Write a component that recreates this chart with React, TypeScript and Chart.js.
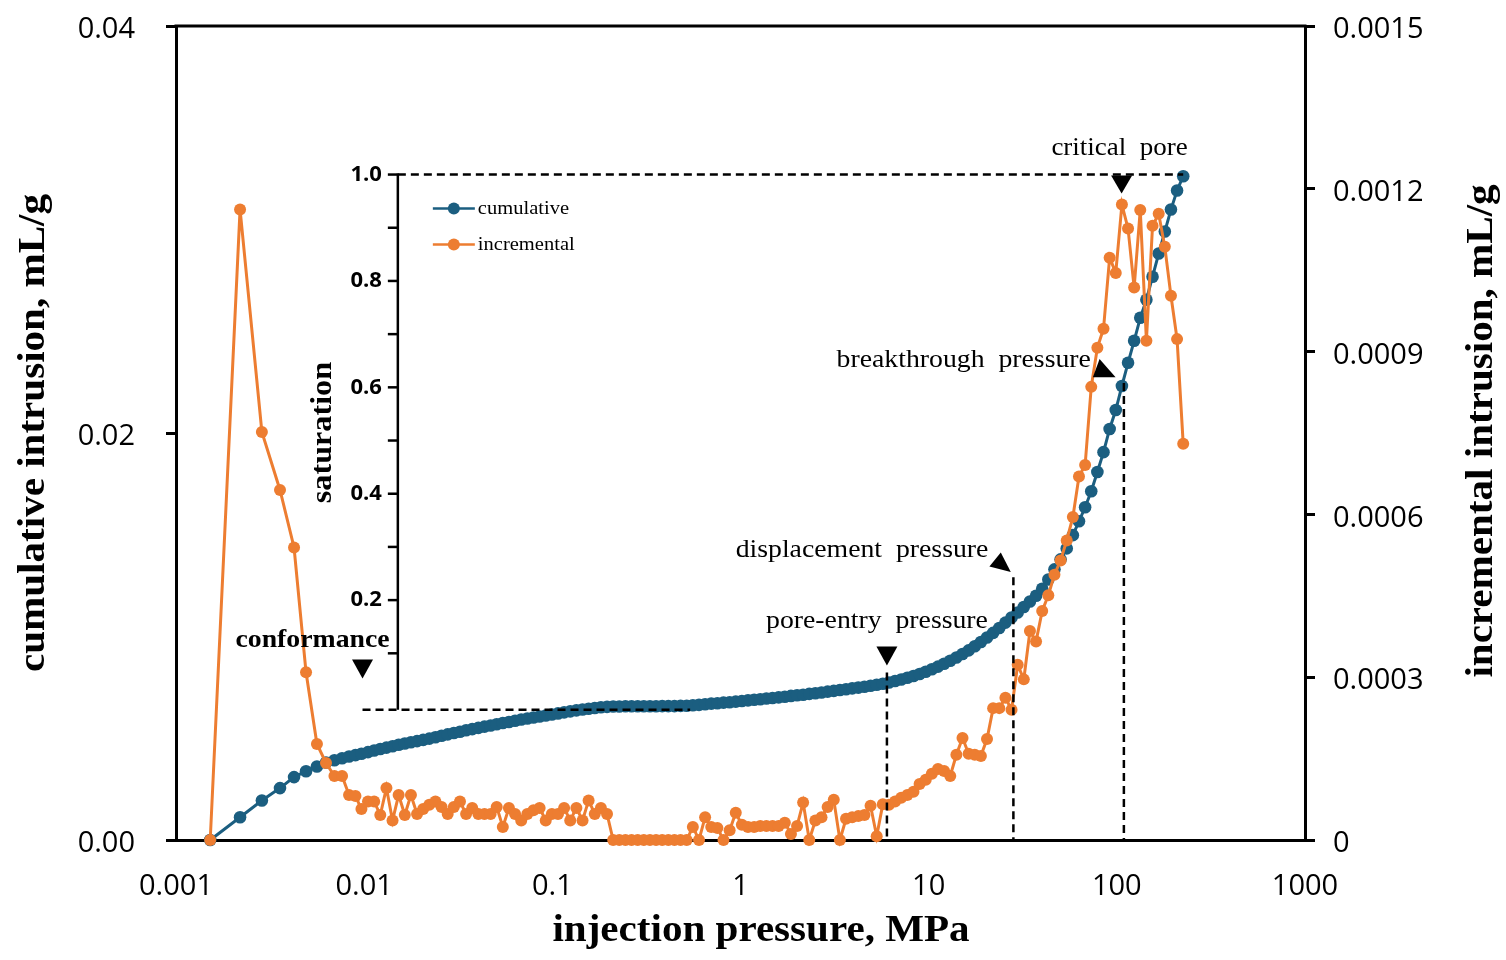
import React, { useEffect, useRef } from "react";
import { Chart, registerables, type ChartConfiguration, type Plugin } from "chart.js";

Chart.register(...registerables);

const BLUE = "#1b5e80";
const ORANGE = "#ED7D31";
const SERIF = "'Liberation Serif', 'Times New Roman', serif";
const SANS = "'Open Sans', 'Noto Sans', sans-serif";

// injection pressure, MPa (shared by both series)
const pressureMPa = [
  0.00152, 0.00219, 0.00286, 0.00357, 0.00424, 0.00491, 0.00561, 0.00627, 0.00695, 0.00763,
  0.00831, 0.00899, 0.00967,
  0.01048, 0.0113, 0.01218, 0.01313, 0.01415, 0.01525, 0.01644, 0.01772, 0.0191, 0.02059,
  0.02219, 0.02392, 0.02578, 0.02779, 0.02996, 0.03229, 0.03481, 0.03752, 0.04044, 0.04359,
  0.04699, 0.05062, 0.05456, 0.05881, 0.06339, 0.06833, 0.07365, 0.07939, 0.08558, 0.09225,
  0.09941, 0.1072, 0.1155, 0.1245, 0.1342, 0.1447, 0.1559, 0.1681, 0.1812, 0.1953,
  0.2105, 0.2269, 0.2446, 0.2636, 0.2842, 0.3063, 0.3302, 0.3559, 0.3836, 0.4135,
  0.4457, 0.4804, 0.5178, 0.5582, 0.6017, 0.6485, 0.6991, 0.7535, 0.8122, 0.8755,
  0.9437, 1.017, 1.096, 1.182, 1.274, 1.373, 1.48, 1.595, 1.72, 1.854,
  1.998, 2.152, 2.32, 2.5, 2.695, 2.905, 3.131, 3.375, 3.638, 3.922,
  4.227, 4.556, 4.911, 5.294, 5.706, 6.151, 6.63, 7.147, 7.703, 8.304,
  8.95, 9.648, 10.4, 11.21, 12.08, 13.02, 14.04, 15.13, 16.31, 17.58,
  18.95, 20.42, 22.01, 23.73, 25.58, 27.57, 29.72, 32.03, 34.53, 37.22,
  40.12, 43.24, 46.61, 50.24, 54.16, 58.38, 62.93, 67.83, 73.12, 78.81,
  84.95, 91.57, 98.7, 106.4, 114.7, 123.6, 133.2, 143.6, 154.8, 166.9,
  179.9, 193.9, 209.0, 225.3,
];

// cumulative intrusion, mL/g (left axis)
const cumulative = [
  0, 0.00112, 0.00194, 0.00255, 0.00309, 0.00338, 0.00361, 0.00381, 0.00392, 0.00402,
  0.0041, 0.00417, 0.00424,
  0.00432, 0.0044, 0.00447, 0.00454, 0.00461, 0.00468, 0.00474, 0.0048, 0.00486, 0.00492,
  0.00498, 0.00505, 0.00512, 0.00519, 0.00526, 0.00532, 0.00539, 0.00545, 0.00551, 0.00557,
  0.00563, 0.00569, 0.00575, 0.0058, 0.00586, 0.00592, 0.00597, 0.00602, 0.00607, 0.00612,
  0.00617, 0.00622, 0.00627, 0.00632, 0.00637, 0.00641, 0.00645, 0.00649, 0.00652, 0.00654,
  0.00656, 0.00656, 0.00657, 0.00657, 0.00657, 0.00657, 0.00657, 0.00657, 0.00658, 0.00658,
  0.00658, 0.00659, 0.0066, 0.00662, 0.00664, 0.00667, 0.0067, 0.00672, 0.00675, 0.00677,
  0.0068, 0.00683, 0.00686, 0.00689, 0.00692, 0.00695, 0.00698, 0.00701, 0.00704, 0.00708,
  0.00711, 0.00714, 0.00718, 0.00721, 0.00725, 0.00729, 0.00733, 0.00737, 0.00741, 0.00745,
  0.00749, 0.00753, 0.00758, 0.00763, 0.00768, 0.00774, 0.00781, 0.00789, 0.00797, 0.00806,
  0.00816, 0.00827, 0.00839, 0.00852, 0.00866, 0.00881, 0.00897, 0.00914, 0.00932, 0.00952,
  0.00973, 0.00995, 0.01018, 0.01042, 0.01068, 0.01093, 0.01118, 0.01145, 0.01172, 0.012,
  0.01235, 0.0128, 0.0133, 0.01379, 0.01433, 0.01498, 0.01566, 0.01635, 0.01714, 0.01808,
  0.01906, 0.0202, 0.02113, 0.02231, 0.02345, 0.02453, 0.02566, 0.02655, 0.02768, 0.02882,
  0.0299, 0.03098, 0.03192, 0.03262,
];

// incremental intrusion, mL/g (right axis)
const incremental = [
  0, 0.001162, 0.000752, 0.000645, 0.000539, 0.000309, 0.000177, 0.000142, 0.000118, 0.000118,
  0.000083, 0.000081, 0.000057,
  0.000071, 0.000071, 0.000046, 0.000096, 0.000036, 0.000083, 0.000046, 0.000083, 0.000048, 0.000057,
  0.000065, 0.000071, 0.000061, 0.000048, 0.000061, 0.000071, 0.000048, 0.000059, 0.000048, 0.000048,
  0.000048, 0.000061, 0.000024, 0.000059, 0.000048, 0.000036, 0.000048, 0.000055, 0.000059, 0.000036,
  0.000048, 0.000048, 0.000059, 0.000036, 0.000059, 0.000036, 0.000073, 0.000048, 0.000059, 0.000048,
  0, 0, 0, 0, 0, 0, 0, 0, 0, 0,
  0, 0, 0, 0.000024, 0, 0.000042, 0.000024, 0.000022, 0, 0.000018,
  0.00005, 0.000028, 0.000024, 0.000024, 0.000026, 0.000026, 0.000026, 0.000026, 0.000032, 0.000011,
  0.000026, 0.000069, 0, 0.000036, 0.000042, 0.000061, 0.000074, 0, 0.000039, 0.000042,
  0.000044, 0.000046, 0.000063, 0.000007, 0.000066, 0.000065, 0.000071, 0.000078, 0.000083, 0.000089,
  0.000103, 0.000111, 0.000122, 0.000131, 0.000127, 0.000118, 0.000157, 0.000188, 0.000159, 0.000157,
  0.000155, 0.000186, 0.000243, 0.000243, 0.000262, 0.00024, 0.000323, 0.000296, 0.000385, 0.000366,
  0.000422, 0.000451, 0.000489, 0.000515, 0.000552, 0.000595, 0.00067, 0.000691, 0.000835, 0.000907,
  0.000942, 0.001073, 0.001045, 0.001171, 0.001127, 0.001018, 0.001161, 0.00092, 0.001132, 0.001154,
  0.001093, 0.001003, 0.000923, 0.00073,
];

const xTicks = [0.001, 0.01, 0.1, 1, 10, 100, 1000];
const xTickLabels = ["0.001", "0.01", "0.1", "1", "10", "100", "1000"];
const leftTicks = [0, 0.02, 0.04];
const leftTickLabels = ["0.00", "0.02", "0.04"];
const rightTicks = [0, 0.0003, 0.0006, 0.0009, 0.0012, 0.0015];
const rightTickLabels = ["0", "0.0003", "0.0006", "0.0009", "0.0012", "0.0015"];
const satTicks = [0.1, 0.2, 0.3, 0.4, 0.5, 0.6, 0.7, 0.8, 0.9, 1.0];
const satTickLabels = ["", "0.2", "", "0.4", "", "0.6", "", "0.8", "", "1.0"];

// saturation 0 / 1 in cumulative-intrusion terms
const satZeroCum = 0.00656;
const satFullCum = 0.0327;

const markerLabels = ["conformance", "pore-entry  pressure", "displacement  pressure", "breakthrough  pressure", "critical  pore"];
const markerPressures = [0.0098, 6.0, 28.2, 109, 106];
const insetAxisPressure = 0.0151;
const insetBaseEnd = 0.54;

function drawText(
  ctx: CanvasRenderingContext2D,
  text: string,
  x: number,
  y: number,
  font: string,
  align: CanvasTextAlign,
  baseline: CanvasTextBaseline,
  sx = 1,
  rot = 0
) {
  ctx.save();
  ctx.translate(x, y);
  if (rot) ctx.rotate(rot);
  ctx.scale(sx, 1);
  ctx.font = font;
  ctx.textAlign = align;
  ctx.textBaseline = baseline;
  ctx.fillStyle = "#000";
  ctx.fillText(text, 0, 0);
  ctx.restore();
}

function tri(ctx: CanvasRenderingContext2D, pts: number[][]) {
  ctx.beginPath();
  ctx.moveTo(pts[0][0], pts[0][1]);
  ctx.lineTo(pts[1][0], pts[1][1]);
  ctx.lineTo(pts[2][0], pts[2][1]);
  ctx.closePath();
  ctx.fill();
}

const annotationPlugin: Plugin<"line"> = {
  id: "poreAnnotations",
  afterDatasetsDraw(chart) {
    const { ctx, chartArea } = chart;
    const px = (p: number) => chart.scales.x.getPixelForValue(p);
    const py = (c: number) => chart.scales.y.getPixelForValue(c);
    const sy = (s: number) => chart.scales.sat.getPixelForValue(s);
    const seg = (x1: number, y1: number, x2: number, y2: number) => {
      ctx.beginPath();
      ctx.moveTo(x1, y1);
      ctx.lineTo(x2, y2);
      ctx.stroke();
    };

    ctx.save();
    ctx.strokeStyle = "#000";
    ctx.fillStyle = "#000";

    // top frame line
    ctx.lineWidth = 3;
    seg(chartArea.left - 1.5, chartArea.top, chartArea.right + 1.5, chartArea.top);

    const ax = px(insetAxisPressure);
    const yTop = sy(1);
    const yBase = sy(-0.006);

    // dashed guides
    ctx.setLineDash([8, 5]);
    ctx.lineWidth = 2.5;
    seg(px(markerPressures[0]), yBase, px(insetBaseEnd), yBase);
    seg(ax, yTop, px(pressureMPa[pressureMPa.length - 1]), yTop);
    const xPore = px(markerPressures[1]);
    const xDisp = px(markerPressures[2]);
    const xBreak = px(markerPressures[3]);
    const poreTop = py(0.00823);
    const dispTop = py(0.01291);
    const breakTop = py(0.02246);
    seg(xPore, poreTop, xPore, chartArea.bottom);
    seg(xDisp, dispTop, xDisp, chartArea.bottom);
    seg(xBreak, breakTop, xBreak, chartArea.bottom);
    ctx.setLineDash([]);

    // inset saturation axis
    ctx.lineWidth = 2.5;
    seg(ax, yTop - 1, ax, yBase);
    satTicks.forEach((s, i) => {
      const y = sy(s);
      seg(ax - 10, y, ax, y);
      if (satTickLabels[i]) drawText(ctx, satTickLabels[i], ax - 16, y, `bold 22px ${SANS}`, "right", "middle");
    });
    drawText(ctx, "saturation", ax - 74, sy(0.515), `bold 29px ${SERIF}`, "center", "middle", 1.11, -Math.PI / 2);

    // inset legend
    const legendRows: [string, string][] = [["cumulative", BLUE], ["incremental", ORANGE]];
    legendRows.forEach(([name, color], i) => {
      const y = yTop + 34 + i * 36;
      ctx.strokeStyle = color;
      ctx.fillStyle = color;
      ctx.lineWidth = 2.5;
      seg(ax + 35, y, ax + 77, y);
      ctx.beginPath();
      ctx.arc(ax + 56, y, 6, 0, Math.PI * 2);
      ctx.fill();
      drawText(ctx, name, ax + 80, y, `19px ${SERIF}`, "left", "middle", 1.08);
    });
    ctx.fillStyle = "#000";

    // triangles
    const xConf = px(markerPressures[0]);
    const confTip = py(0.00793);
    tri(ctx, [[xConf - 10.5, confTip - 19], [xConf + 10.5, confTip - 19], [xConf, confTip]]);
    const poreTip = py(0.00857);
    tri(ctx, [[xPore - 10.5, poreTip - 19], [xPore + 10.5, poreTip - 19], [xPore, poreTip]]);
    const xCrit = px(markerPressures[4]);
    const critTip = py(0.03177);
    tri(ctx, [[xCrit - 10.5, critTip - 18], [xCrit + 10.5, critTip - 18], [xCrit, critTip]]);
    tri(ctx, [[xDisp - 12.6, dispTop - 24.7], [xDisp - 24, dispTop - 10.7], [xDisp - 2.6, dispTop - 5.3]]);
    tri(ctx, [[xBreak - 24.3, breakTop - 24], [xBreak - 31, breakTop - 5.7], [xBreak - 8.3, breakTop - 5.7]]);

    // labels
    drawText(ctx, markerLabels[0], xConf - 50, confTip - 32, `bold 25px ${SERIF}`, "center", "alphabetic", 1.11);
    drawText(ctx, markerLabels[1], xPore + 101, poreTip - 38, `25px ${SERIF}`, "right", "alphabetic", 1.11);
    drawText(ctx, markerLabels[2], xDisp - 25, dispTop - 20, `25px ${SERIF}`, "right", "alphabetic", 1.11);
    drawText(ctx, markerLabels[3], xBreak - 33, breakTop - 16, `25px ${SERIF}`, "right", "alphabetic", 1.11);
    drawText(ctx, markerLabels[4], xCrit - 2, critTip - 38, `25px ${SERIF}`, "center", "alphabetic", 1.08);

    // axis titles
    const midY = (chartArea.top + chartArea.bottom) / 2;
    drawText(ctx, "cumulative intrusion, mL/g", 34, midY, `bold 37px ${SERIF}`, "center", "middle", 1.11, -Math.PI / 2);
    drawText(ctx, "incremental intrusion, mL/g", 1482, midY - 2, `bold 37px ${SERIF}`, "center", "middle", 1.11, -Math.PI / 2);
    drawText(ctx, "injection pressure, MPa", 761, 941, `bold 37px ${SERIF}`, "center", "alphabetic", 1.11);

    ctx.restore();
  },
};

export default function App() {
  const chartRef = useRef<HTMLCanvasElement | null>(null);
  const chartInstance = useRef<Chart | null>(null);

  useEffect(() => {
    if (!chartRef.current) return;
    if (chartInstance.current) chartInstance.current.destroy();

    const tickFont = { family: SANS, size: 29 };

    const config: ChartConfiguration<"line"> = {
      type: "line",
      data: {
        datasets: [
          {
            label: "incremental",
            data: pressureMPa.map((p, i) => ({ x: p, y: incremental[i] })),
            yAxisID: "y2",
            order: 0,
            borderColor: ORANGE,
            backgroundColor: ORANGE,
            pointBackgroundColor: ORANGE,
            pointBorderWidth: 0,
            pointRadius: 6,
            borderWidth: 3,
            tension: 0,
            clip: false,
          },
          {
            label: "cumulative",
            data: pressureMPa.map((p, i) => ({ x: p, y: cumulative[i] })),
            yAxisID: "y",
            order: 1,
            borderColor: BLUE,
            backgroundColor: BLUE,
            pointBackgroundColor: BLUE,
            pointBorderWidth: 0,
            pointRadius: 6.3,
            borderWidth: 3,
            tension: 0,
            clip: false,
          },
        ],
      },
      options: {
        animation: false,
        responsive: false,
        maintainAspectRatio: false,
        layout: { padding: { top: 26 } },
        plugins: { legend: { display: false }, tooltip: { enabled: false } },
        scales: {
          x: {
            type: "logarithmic",
            position: "bottom",
            min: 0.001,
            max: 1000,
            afterBuildTicks: (s) => {
              s.ticks = xTicks.map((v) => ({ value: v }));
            },
            afterFit: (s) => {
              s.height = 120;
              s.paddingLeft = 0;
              s.paddingRight = 0;
            },
            ticks: {
              callback: (_v, i) => xTickLabels[i],
              font: tickFont,
              color: "#000",
              padding: 29,
              maxRotation: 0,
              autoSkip: false,
            },
            grid: { display: false, drawTicks: false },
            border: { display: true, color: "#000", width: 3 },
          },
          y: {
            type: "linear",
            position: "left",
            min: 0,
            max: 0.04,
            afterBuildTicks: (s) => {
              s.ticks = leftTicks.map((v) => ({ value: v }));
            },
            afterFit: (s) => {
              s.width = 176;
              s.paddingTop = 0;
              s.paddingBottom = 0;
            },
            ticks: { callback: (_v, i) => leftTickLabels[i], font: tickFont, color: "#000", padding: 31, labelOffset: 4 },
            grid: { display: true, drawOnChartArea: false, drawTicks: true, tickLength: 10, color: "#000", lineWidth: 3 },
            border: { display: true, color: "#000", width: 3 },
          },
          y2: {
            type: "linear",
            position: "right",
            min: 0,
            max: 0.0015,
            afterBuildTicks: (s) => {
              s.ticks = rightTicks.map((v) => ({ value: v }));
            },
            afterFit: (s) => {
              s.width = 201;
              s.paddingTop = 0;
              s.paddingBottom = 0;
            },
            ticks: { callback: (_v, i) => rightTickLabels[i], font: tickFont, color: "#000", padding: 18, labelOffset: 4 },
            grid: { display: true, drawOnChartArea: false, drawTicks: true, tickLength: 10, color: "#000", lineWidth: 3 },
            border: { display: true, color: "#000", width: 3 },
          },
          sat: {
            type: "linear",
            axis: "y",
            position: "left",
            display: false,
            min: (0 - satZeroCum) / (satFullCum - satZeroCum),
            max: (0.04 - satZeroCum) / (satFullCum - satZeroCum),
          },
        },
      },
      plugins: [annotationPlugin],
    };

    chartInstance.current = new Chart(chartRef.current, config);

    return () => {
      if (chartInstance.current) {
        chartInstance.current.destroy();
        chartInstance.current = null;
      }
    };
  }, []);

  return (
    <div style={{ position: "fixed", left: 0, top: 0, width: 1506, height: 960, background: "#fff" }}>
      <canvas ref={chartRef} width={1506} height={960} style={{ width: 1506, height: 960 }} />
    </div>
  );
}
